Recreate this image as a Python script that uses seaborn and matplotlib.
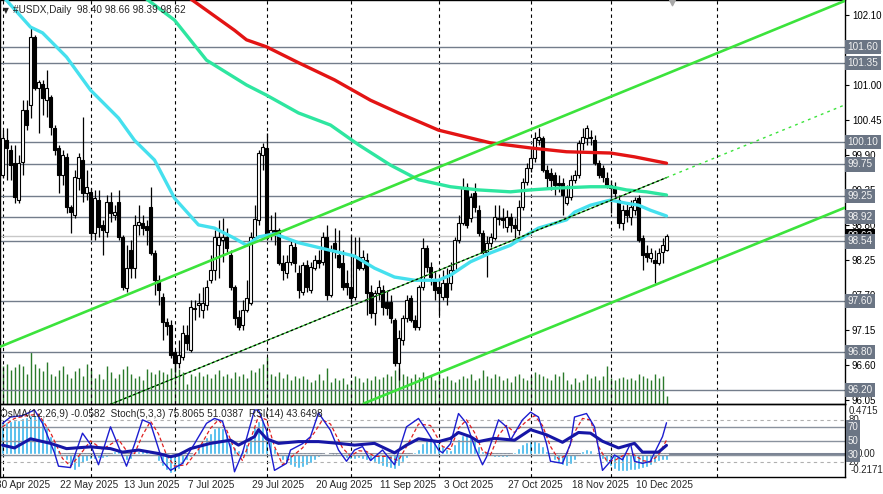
import numpy as np
import pandas as pd
import matplotlib
matplotlib.use("Agg")
import matplotlib.pyplot as plt
import matplotlib.transforms as mtransforms
import seaborn as sns

sns.set_theme(style="white")
plt.rcParams['font.family'] = ['Liberation Sans', 'DejaVu Sans']

# ---------------- data (daily USDX, bar 0 = 1 May 2025) ----------------
opens = [99.58,100.13,99.98,99.77,99.19,99.79,100.61,100.69,101.75,100.95,
         101.02,100.76,100.81,100.32,100.01,99.58,99.87,99.08,98.96,99.54,
         99.82,99.30,99.32,98.67,99.19,98.80,98.69,99.16,98.96,99.16,
         98.61,97.81,98.40,98.12,98.80,98.83,98.78,99.08,98.36,97.93,
         97.67,97.27,97.23,96.80,96.63,96.72,97.07,96.83,97.49,97.54,
         97.46,97.54,97.93,98.09,98.48,98.56,98.61,98.33,97.82,97.35,
         97.23,97.46,97.57,98.61,98.88,99.90,100.01,98.67,98.72,98.72,
         98.20,98.04,98.22,98.45,98.04,97.74,98.17,97.78,98.12,98.25,
         98.22,98.61,97.70,98.52,98.33,98.20,97.89,97.82,97.67,98.30,
         98.12,98.25,97.74,97.41,97.73,97.78,97.59,97.59,97.30,96.63,
         96.99,97.34,97.65,97.30,97.20,97.82,98.44,98.14,97.93,97.82,
         97.67,97.89,97.89,98.09,98.56,98.83,99.40,98.91,99.30,99.03,
         98.67,98.37,98.52,98.59,98.89,98.91,98.77,98.92,98.80,98.72,
         99.08,99.47,99.69,99.85,100.13,100.17,99.66,99.62,99.58,99.46,
         99.46,99.14,99.24,99.51,99.58,100.09,100.17,100.17,100.13,99.77,
         99.69,99.54,99.43,99.40,99.19,98.83,99.03,98.92,99.03,99.22,
         98.59,98.36,98.28,98.25,98.20,98.37,98.40]
highs = [100.29,100.32,100.06,100.06,99.90,100.76,100.76,101.91,101.79,101.08,
         101.08,101.24,100.84,100.37,100.06,99.98,99.93,99.11,99.66,99.93,
         100.50,99.66,99.38,99.35,99.35,98.88,99.27,99.32,99.11,99.35,
         98.64,98.48,98.56,98.96,99.11,98.96,98.88,99.40,98.40,98.01,
         97.73,97.34,97.30,96.83,96.99,97.23,97.23,97.62,97.62,97.73,
         97.82,97.93,98.33,98.72,98.88,98.91,98.75,98.40,97.86,97.46,
         97.62,97.93,98.69,99.11,99.98,100.09,100.25,98.96,99.00,98.75,
         98.33,98.33,98.56,98.53,98.17,98.22,98.25,98.22,98.33,98.40,
         98.69,98.80,98.48,98.75,98.72,98.40,98.09,98.64,98.61,98.61,
         98.40,98.36,97.86,97.78,97.93,97.86,97.78,97.70,97.34,97.15,
         97.38,97.70,97.70,97.38,97.86,98.59,98.48,98.22,98.06,97.93,
         98.09,98.12,98.22,98.61,98.96,99.54,99.46,99.30,99.46,99.11,
         98.72,98.63,98.67,99.11,99.11,99.07,99.03,98.99,98.91,99.19,
         99.54,99.77,99.98,100.26,100.32,100.20,99.74,99.69,99.63,99.58,
         99.54,99.43,99.58,99.66,100.13,100.32,100.37,100.29,100.21,99.82,
         99.74,99.63,99.51,99.47,99.27,99.11,99.14,99.19,99.24,99.27,
         98.64,98.48,98.44,98.40,98.44,98.59,98.66]
lows = [99.54,99.51,99.51,99.14,99.14,99.58,100.29,100.48,100.92,100.25,
        100.53,100.50,100.21,99.90,99.30,99.43,98.99,98.67,98.91,99.35,
        99.16,99.19,98.56,98.56,98.61,98.33,98.61,98.85,98.88,98.56,
        97.78,97.74,97.97,97.97,98.64,98.64,98.48,98.33,97.70,97.54,
        96.99,97.07,96.71,96.49,96.55,96.68,96.83,96.80,97.30,97.35,
        97.34,97.46,97.89,97.93,97.97,98.22,98.37,97.78,97.23,97.15,
        97.15,97.43,97.54,98.56,98.80,99.66,98.56,98.56,98.48,98.17,
        97.93,97.97,98.17,98.06,97.65,97.70,97.74,97.73,98.09,98.12,
        98.17,97.62,97.67,98.28,98.12,97.78,97.70,97.57,97.62,98.09,
        98.09,97.38,97.34,97.23,97.62,97.38,97.38,97.26,96.58,96.36,
        96.91,97.27,97.27,97.15,97.15,97.78,98.06,97.86,97.62,97.38,
        97.62,97.54,97.78,98.06,98.52,98.80,98.75,98.85,99.00,98.63,
        98.33,97.98,98.45,98.56,98.80,98.75,98.69,98.69,98.59,98.64,
        99.03,99.43,99.63,99.79,100.06,99.63,99.38,99.35,99.27,99.32,
        98.96,99.11,99.19,99.46,99.54,99.98,100.06,100.06,99.74,99.54,
        99.47,99.38,98.99,99.24,98.75,98.72,98.85,98.80,98.96,98.53,
        98.09,98.22,98.22,97.89,98.17,98.20,98.39]
closes = [100.17,100.01,99.74,99.24,99.77,100.61,100.37,101.75,100.95,101.05,
          100.80,100.95,100.34,99.98,99.58,99.90,99.08,99.00,99.55,99.87,
          99.30,99.40,98.67,99.22,98.77,98.72,99.16,98.99,99.00,98.61,
          97.82,98.12,98.12,98.80,98.85,98.75,98.72,98.36,97.93,97.78,
          97.27,97.21,96.75,96.63,96.75,97.10,96.94,97.51,97.48,97.57,
          97.57,97.82,98.09,98.61,98.61,98.61,98.44,97.82,97.34,97.20,
          97.46,97.65,98.61,98.89,99.93,100.02,98.59,98.72,98.69,98.20,
          98.09,98.22,98.48,98.20,97.78,98.17,97.82,98.14,98.25,98.20,
          98.61,97.70,98.40,98.37,98.14,97.82,97.82,97.65,98.30,98.12,
          98.30,97.73,97.41,97.73,97.82,97.51,97.49,97.34,96.63,97.02,
          97.34,97.62,97.30,97.20,97.82,98.44,98.14,97.98,97.78,97.73,
          97.89,97.67,98.09,98.56,98.83,99.40,98.80,99.24,99.08,98.67,
          98.37,98.52,98.61,98.92,98.91,98.88,98.92,98.80,98.75,99.08,
          99.47,99.69,99.85,100.17,100.18,99.66,99.54,99.51,99.43,99.43,
          99.27,99.24,99.51,99.58,100.09,100.18,100.32,100.18,99.77,99.58,
          99.55,99.43,99.38,99.30,98.83,99.03,98.96,99.08,99.19,98.56,
          98.33,98.30,98.36,98.20,98.36,98.48,98.62]
volumes = [38,40,34,37,40,38,30,52,40,36,
           33,42,30,28,34,38,30,26,33,36,
           28,40,35,26,30,25,38,32,26,30,
           35,38,30,26,28,24,35,32,30,34,
           32,30,36,44,35,32,20,30,28,32,
           28,30,26,30,34,28,30,26,32,28,
           30,26,34,32,36,40,47,30,28,32,
           26,30,24,28,26,28,25,22,24,30,
           24,36,22,26,24,26,20,24,28,26,
           22,26,24,28,25,27,30,28,34,36,
           30,28,26,30,27,32,26,28,24,30,
           26,28,24,22,25,28,26,30,24,26,
           34,28,26,30,28,24,26,22,28,30,
           26,24,28,32,30,28,26,24,30,28,
           32,24,20,26,22,24,30,26,28,24,
           28,38,26,24,26,27,25,26,24,30,
           28,26,24,30,26,28,8]

# moving averages (bar index, price)
ma_fast_i = [0,7,10,16,22,29,33,38,43,49,53,58,61,64,68,74,82,88,93,98,103,109,112,117,122,127,131,134,141,143,147,152,156,159,162,166]
ma_fast_p = [102.40,101.91,101.82,101.44,100.92,100.48,100.13,99.82,99.22,98.80,98.75,98.59,98.48,98.61,98.66,98.52,98.40,98.31,98.12,97.98,97.93,97.93,98.01,98.22,98.36,98.48,98.64,98.75,98.88,99.00,99.11,99.19,99.14,99.11,99.03,98.94]
ma_mid_i = [35,43,51,61,66,74,82,89,97,104,112,119,127,132,139,147,152,156,161,166]
ma_mid_p = [102.40,102.02,101.39,101.00,100.84,100.56,100.37,100.06,99.74,99.51,99.40,99.35,99.32,99.35,99.38,99.40,99.40,99.35,99.32,99.27]
ma_slow_i = [46,58,61,66,74,83,92,99,109,122,132,141,152,158,166]
ma_slow_p = [102.40,101.86,101.71,101.60,101.35,101.08,100.76,100.56,100.29,100.09,100.01,99.95,99.93,99.87,99.77]

# channel lines (two anchor points each: bar index, price)
chan_up_i, chan_up_p = [0, 200], [96.90, 102.05]
chan_lo_i, chan_lo_p = [100, 200], [96.24, 98.80]
chan_md_i, chan_md_p = [50, 160], [96.57, 99.39]

levels = [101.60, 101.35, 100.10, 99.75, 99.25, 98.92, 98.54, 97.60, 96.80, 96.20]
last_price = 98.62
price_ticks = [102.10, 101.55, 101.00, 100.45, 99.90, 99.35, 98.80, 98.25, 97.70, 97.15, 96.60, 96.05]

date_labels = ["30 Apr 2025", "22 May 2025", "13 Jun 2025", "7 Jul 2025", "29 Jul 2025",
               "20 Aug 2025", "11 Sep 2025", "3 Oct 2025", "27 Oct 2025", "18 Nov 2025", "10 Dec 2025"]
date_pos = [-1, 15, 31, 47, 63, 79, 95, 111, 127, 143, 159]
month_sep = [0, 22, 43, 66, 87, 109, 132, 152, 178.6]

osma = [0.30,0.31,0.32,0.33,0.33,
        0.35,0.36,0.38,0.38,0.37,0.35,
        0.26,0.18,0.10,
        0.04,-0.01,
        -0.06,-0.12,-0.16,-0.13,-0.09,
        -0.07,-0.05,-0.05,-0.04,-0.04,-0.03,-0.02,
        0.03,0.04,-0.02,
        -0.06,-0.05,0.02,
        0.03,0.04,0.03,0.02,-0.02,
        -0.07,-0.12,-0.16,-0.19,-0.18,-0.15,
        -0.10,-0.06,-0.03,0.01,
        0.06,0.12,0.17,0.21,0.25,0.27,0.25,0.20,
        0.12,0.07,0.04,0.04,
        0.10,0.18,0.26,0.32,0.33,
        0.22,0.14,0.06,
        -0.02,-0.06,-0.09,-0.11,-0.13,-0.14,-0.13,-0.11,-0.09,-0.06,-0.03,
        -0.01,0.01,-0.01,0.00,
        -0.02,-0.03,-0.04,-0.05,-0.05,-0.04,-0.05,-0.06,-0.07,-0.08,
        -0.10,-0.12,-0.13,-0.14,-0.15,-0.12,-0.08,
        -0.04,-0.01,0.02,0.05,
        0.11,0.15,0.17,
        0.14,0.11,0.08,
        0.05,0.04,
        0.10,0.15,0.19,0.20,0.19,
        0.15,0.08,
        0.03,0.00,
        -0.02,-0.03,-0.03,-0.03,-0.03,-0.02,
        0.02,0.06,0.10,0.12,0.13,0.14,0.12,
        0.08,0.03,-0.02,
        -0.06,-0.09,-0.11,-0.12,-0.10,-0.06,
        -0.01,0.03,0.05,0.04,
        0.01,-0.02,-0.05,-0.08,
        -0.12,-0.15,-0.17,-0.17,-0.17,
        -0.16,-0.16,-0.15,-0.14,-0.13,-0.11,-0.09,
        -0.07,-0.06,-0.0582]

stoch_i = [0,2,5,8,10,13,14,17,20,22,24,27,29,31,33,35,37,40,42,45,48,51,53,55,57,58,60,63,64,66,68,71,72,75,77,79,82,84,86,88,90,92,95,98,101,104,106,109,110,112,114,116,118,120,121,124,126,127,130,132,134,136,137,140,142,143,146,148,150,152,153,155,157,158,160,162,163,165,166]
stoch_v = [75,84,86,94,75,33,14,12,61,45,16,70,42,14,45,80,75,21,8,18,46,75,82,78,40,6,33,94,94,65,8,18,37,46,56,90,65,37,21,37,42,22,37,16,70,82,65,37,33,46,89,75,42,16,27,80,70,51,80,91,84,46,21,18,46,84,89,70,8,21,30,23,46,21,18,21,33,56,75.81]
signal_i = [0,3,6,9,12,15,17,20,22,25,27,29,31,33,35,37,39,41,43,46,49,52,54,56,58,60,62,64,66,68,70,72,75,78,80,82,85,87,89,91,93,96,99,102,104,107,110,112,114,116,118,120,122,124,126,128,131,133,135,137,139,141,143,145,147,149,151,153,156,158,160,162,164,166]
signal_v = [70,82,86,88,62,25,14,35,50,38,45,52,36,32,58,78,60,30,14,16,38,68,80,66,38,22,52,85,80,42,16,26,40,62,80,74,40,28,36,35,28,28,22,52,74,72,42,38,68,80,62,36,30,58,72,62,78,86,72,42,24,30,62,82,80,42,22,22,32,30,22,20,30,51.04]
rsi_i = [0,3,7,12,16,22,27,30,34,39,42,44,47,52,57,59,63,64,66,69,74,79,84,88,93,98,101,104,109,112,114,117,119,123,128,132,136,140,144,147,150,154,158,160,164,166]
rsi_v = [44,40,53,46.5,39,41.5,39,34,37,32,27.5,30,39,46.5,51,44,56,66,53,46.5,49,49,46.5,44,46.5,33,44,53,49,53.6,62,56,49,53.6,51,66,58.7,48,62,61,49.5,40,46.5,34,34,43.65]

# ---------------- figure ----------------
W, H = 883, 494
fig = plt.figure(figsize=(W / 100, H / 100), dpi=100)
fig.patch.set_facecolor('white')

main_top, main_bot = 0.0, 403.5
ind_top, ind_bot = 404.0, 477.3
right = 845.0
ax = fig.add_axes([0, 1 - main_bot / H, right / W, (main_bot - main_top) / H])
axi = fig.add_axes([0, 1 - ind_bot / H, right / W, (ind_bot - ind_top) / H])

xlim = (-0.625, 210.625)
ax.set_xlim(*xlim)
ax.set_ylim(95.992, 102.336)

# volume on a twin axis, drawn behind the candles
axv = ax.twinx()
axv.set_ylim(0, 403.5)
axv.set_xlim(*xlim)
idx = np.arange(len(closes))
axv.vlines(idx, 0, volumes, color='#2a7a2a', lw=1.0)
axv.set_yticks([])
ax.set_zorder(axv.get_zorder() + 1)
ax.patch.set_visible(False)
for s in axv.spines.values():
    s.set_visible(False)

# month separators
for a in (ax, axi):
    for m in month_sep:
        a.axvline(m, color='black', lw=0.8, ls=(0, (3, 3)), zorder=1)

# levels
for lv in levels:
    ax.axhline(lv, color='#737d8b', lw=1.0, zorder=1)
ax.axhline(last_price, color='#c8c8c8', lw=1.0, zorder=1)

# candles
o = np.array(opens); c = np.array(closes); h = np.array(highs); l = np.array(lows)
up = c >= o
ax.vlines(idx, l, h, color='black', lw=0.9, zorder=3)
ax.bar(idx, np.maximum(np.abs(c - o), 0.004), bottom=np.minimum(o, c), width=0.58,
       color=np.where(up, 'white', 'black'), edgecolor='black', linewidth=0.8, zorder=4)

# moving averages
for xi, yp, col in [(ma_slow_i, ma_slow_p, '#e31414'),
                    (ma_mid_i, ma_mid_p, '#2ee6a0'),
                    (ma_fast_i, ma_fast_p, '#45e0ee')]:
    sns.lineplot(x=xi, y=yp, ax=ax, color=col, linewidth=2.4, estimator=None,
                 sort=False, legend=False, zorder=6)

# channel
ax.axline((chan_up_i[0], chan_up_p[0]), (chan_up_i[1], chan_up_p[1]), color='#3ce33c', lw=1.9, zorder=7)
ax.axline((chan_lo_i[0], chan_lo_p[0]), (chan_lo_i[1], chan_lo_p[1]), color='#3ce33c', lw=1.9, zorder=7)
slope = (chan_md_p[1] - chan_md_p[0]) / (chan_md_i[1] - chan_md_i[0])
last_i = len(closes) - 1
seg_x = [xlim[0] - 40, last_i]
seg_y = [chan_md_p[0] + (x - chan_md_i[0]) * slope for x in seg_x]
ax.plot(seg_x, seg_y, color='#2fb82f', lw=0.9, zorder=7)
ax.plot(seg_x, seg_y, color='black', lw=0.9, ls=(0, (2, 2)), zorder=7)
ext_x = [last_i, xlim[1] + 5]
ext_y = [chan_md_p[0] + (x - chan_md_i[0]) * slope for x in ext_x]
ax.plot(ext_x, ext_y, color='#3ce33c', lw=1.0, ls=(0, (2, 3)), zorder=7)

# right price axis
ax.yaxis.tick_right()
ax.set_yticks(price_ticks)
ax.set_yticklabels([f"{t:.2f}" for t in price_ticks])
ax.tick_params(axis='y', which='major', right=True, length=3, width=0.8, color='black',
               labelsize=7, pad=2, labelcolor='black')
ax.set_xticks([])
ax.set_xlabel(''); ax.set_ylabel('')
axv.set_ylabel('')
for s in ax.spines.values():
    s.set_color('black'); s.set_linewidth(1.0); s.set_visible(True)

btr = mtransforms.blended_transform_factory(ax.transAxes, ax.transData)
ax.text(1.003, last_price, f"{last_price:.2f}", transform=btr, fontsize=7.2, color='white',
        va='center', ha='left', zorder=10, clip_on=False,
        bbox=dict(boxstyle='square,pad=0.22', fc='black', ec='none'))
for lv in levels:
    ax.text(1.003, lv, f"{lv:.2f}", transform=btr, fontsize=7.2, color='#f2f2f2',
            va='center', ha='left', zorder=11, clip_on=False,
            bbox=dict(boxstyle='square,pad=0.22', fc='#6b7584', ec='none'))

# title / header
ax.text(0.004, 0.975, "\u25bc", transform=ax.transAxes, fontsize=5.5, va='center', ha='left',
        family=['DejaVu Sans'], zorder=12)
ax.text(0.015, 0.975, "#USDX,Daily  98.40 98.66 98.39 98.62", transform=ax.transAxes,
        fontsize=7.2, va='center', ha='left', zorder=12)
ax.scatter([167.4], [102.30], marker='v', s=22, color='#a8a8a8', zorder=12, clip_on=False)

# ---------------- indicator window ----------------
axi.set_xlim(*xlim)
axi.set_ylim(-1.85, 102.56)
axo = axi.twinx()
axo.set_xlim(*xlim)
axo.set_ylim(-0.2296, 0.4897)
axo.bar(idx, osma, width=0.7, color='#38b4ea', zorder=2)
axo.axhline(0, color='#7b8494', lw=2.2, zorder=1)
axo.set_yticks([])
for s in axo.spines.values():
    s.set_visible(False)
axi.set_zorder(axo.get_zorder() + 1)
axi.patch.set_visible(False)

axi.axhline(80, color='#b0b0b0', lw=0.8, ls=(0, (3, 3)), zorder=1)
axi.axhline(20, color='#b0b0b0', lw=0.8, ls=(0, (3, 3)), zorder=1)
axi.axhline(70, color='#8a929e', lw=1.0, zorder=1)
axi.axhline(50, color='#8a929e', lw=1.0, zorder=1)
axi.axhline(30, color='#8a929e', lw=1.0, zorder=1)

sns.lineplot(x=signal_i, y=signal_v, ax=axi, color='#e02020', linewidth=0.9, estimator=None,
             sort=False, legend=False, zorder=4)
axi.lines[-1].set_linestyle((0, (3, 2)))
sns.lineplot(x=stoch_i, y=stoch_v, ax=axi, color='#1c1cd0', linewidth=1.0, estimator=None,
             sort=False, legend=False, zorder=5)
sns.lineplot(x=rsi_i, y=rsi_v, ax=axi, color='#1616a6', linewidth=2.2, estimator=None,
             sort=False, legend=False, zorder=6)
axi.set_xlabel(''); axi.set_ylabel('')
axi.set_xticks([]); axi.set_yticks([])
for s in axi.spines.values():
    s.set_color('black'); s.set_linewidth(1.0); s.set_visible(True)

axi.text(0.0, 0.86, "OsMA(12,26,9) -0.0582  Stoch(5,3,3) 75.8065 51.0387  RSI(14) 43.6498",
         transform=axi.transAxes, fontsize=7.2, va='center', ha='left', zorder=12)

bti = mtransforms.blended_transform_factory(axi.transAxes, axi.transData)
axi.text(1.004, 92.5, "0.4715", transform=bti, fontsize=7, va='center', ha='left', clip_on=False)
axi.text(1.004, 80, "80", transform=bti, fontsize=7, va='center', ha='left', clip_on=False)
axi.text(1.004, 20, "20", transform=bti, fontsize=7, va='center', ha='left', clip_on=False)
axi.text(1.006, 8.5, "-0.2171", transform=bti, fontsize=7, va='center', ha='left', clip_on=False)
axi.text(1.014, 31, "0.00", transform=bti, fontsize=7, va='center', ha='left', clip_on=False)
for lv in (70, 50, 30):
    axi.text(1.003, lv, f"{lv}", transform=bti, fontsize=7, color='#f2f2f2', va='center',
             ha='left', clip_on=False, zorder=11,
             bbox=dict(boxstyle='square,pad=0.18', fc='#6b7584', ec='none'))

# date labels under the indicator window
off = mtransforms.ScaledTranslation(-2.5 / 100, 0, fig.dpi_scale_trans)
btd = mtransforms.blended_transform_factory(axi.transData, axi.transAxes) + off
for p, lab in zip(date_pos, date_labels):
    axi.text(p, -0.11, lab, transform=btd, fontsize=7.2, va='center', ha='left', clip_on=False)

fig.savefig("out.png", dpi=100, facecolor='white')
